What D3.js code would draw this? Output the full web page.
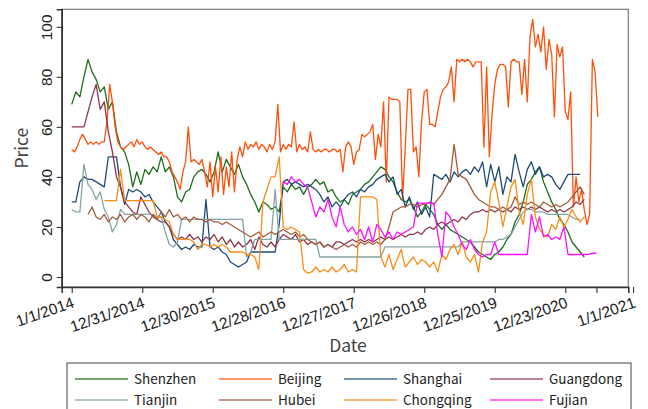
<!DOCTYPE html>
<html>
<head>
<meta charset="utf-8">
<script src="https://cdn.jsdelivr.net/npm/d3@7"></script>
<style>
  html, body { margin: 0; padding: 0; background: #fff; }
  svg { display: block; }
</style>
</head>
<body>
<svg id="chart" width="648" height="409"></svg>
<script>
// Weekly carbon-permit prices by pilot market (week 0 = first week of 2014)
const seriesNames = ["Shenzhen", "Beijing", "Shanghai", "Guangdong", "Tianjin", "Hubei", "Chongqing", "Fujian"];
const seriesColors = ["#1b6d1b", "#ff4f0a", "#1f4a78", "#8c3448", "#86a3a3", "#a35a3a", "#f98c17", "#ff10ff"];

// x-axis ticks (in weeks) and their labels; one tick is left unlabelled
const tickWeeks = [0, 52, 104, 156, 208, 260, 312, 364, 387, 414];
const tickLabels = ["1/1/2014", "12/31/2014", "12/30/2015", "12/28/2016", "12/27/2017", "12/26/2018", "12/25/2019", "12/23/2020", "", "1/1/2021"];
const priceTicks = [0, 20, 40, 60, 80, 100];

// each series: first week, sampling step in weeks, prices
const shenzhen = { start: 0, step: 3, values: [
  69,74,72,80,87,82,79,74,76,67,
  70,58,52,50,45,36,42,37,43,41,
  44,42,48,42,44,40,32,30,34,35,
  40,42,43,41,38,42,50,42,47,44,
  41,45,40,37,33,30,26,30,29,27,
  28,26,36,34,37,35,36,33,36,37,
  39,37,38,34,35,32,30,31,29,33,
  34,35,37,38,40,42,44,43,40,38,
  34,31,30,31,28,24,26,29,27,25,
  21,19,21,19,18,17,16,15,14,12,
  10,9,8,7,9,10,12,15,17,22,
  25,30,37,39,42,44,38,34,30,27,
  23,21,18,14,12,10,8] };

const beijing = { start: 0, step: 2, values: [
  51,50,52,55,57,55,53,54,53,54,
  53,54,54,62,77,70,60,54,52,51,
  52,53,54,52,55,53,54,52,51,52,
  51,50,49,50,48,48,46,42,40,38,
  35,42,46,60,46,47,46,45,47,42,
  36,46,32,44,34,48,33,44,36,50,
  34,47,52,48,54,51,53,52,54,51,
  53,52,50,53,51,54,69,50,53,51,
  53,52,62,50,53,51,52,50,58,51,
  50,51,50,51,51,50,51,51,50,51,
  42,52,54,52,45,50,51,57,56,57,
  58,61,47,57,52,70,38,72,71,71,
  71,70,31,52,75,75,50,52,40,62,
  74,75,61,61,60,66,72,75,76,78,
  84,70,87,86,87,86,87,86,84,86,
  86,86,52,84,48,65,77,83,85,85,
  84,68,86,87,86,86,73,87,70,96,
  103,92,97,90,100,83,95,89,64,93,
  88,92,66,63,74,28,40,30,35,27,
  21,25,87,82,64] };

const shanghai = { start: 0, step: 3, values: [
  30,30,38,40,39,39,38,37,36,48,
  48,48,36,29,35,34,35,34,32,33,
  30,28,26,22,20,15,13,11,12,11,
  13,12,12,31,12,11,12,10,9,6,
  5,4,5,6,10,10,10,10,10,10,
  10,21,38,39,37,38,37,36,37,36,
  35,33,30,32,28,30,28,31,33,34,
  32,35,34,36,37,39,40,41,38,40,
  33,35,28,32,27,30,25,28,24,41,
  40,39,41,38,42,40,42,43,41,44,
  42,46,36,45,38,44,33,40,38,49,
  42,36,43,46,41,44,40,41,40,37,
  35,38,41,41,41,41] };

const guangdong = { start: 0, step: 3, values: [
  60,60,60,60,66,72,77,67,70,58,
  50,40,36,30,28,26,25,32,29,26,
  24,23,22,22,20,17,15,16,15,17,
  15,16,14,16,15,17,14,16,13,15,
  12,14,12,13,15,11,16,13,12,14,
  12,15,17,16,15,17,14,15,13,14,
  13,14,12,13,12,14,14,13,14,15,
  14,15,14,15,14,15,16,15,16,15,
  16,17,16,17,17,18,17,19,20,19,
  21,22,21,22,23,22,24,23,25,26,
  26,27,26,27,26,27,26,27,26,28,
  27,28,27,28,27,28,27,26,27,26,
  27,26,27,28,30,29,31] };

const tianjin = { start: 0, step: 3, values: [
  27,26,26,45,37,35,31,34,27,24,
  18,21,27,25,25,25,25,25,25,25,
  25,24,24,18,13,12,14,23,23,23,
  23,23,23,23,23,23,23,23,23,23,
  23,23,23,8,10,15,15,15,15,15,
  35,15,15,15,15,15,15,15,15,15,
  15,8,8,8,8,8,8,8,8,8,
  8,8,8,8,8,8,8,12,12,12,
  12,12,12,12,12,12,12,12,12,12,
  12,12,12,12,12,12,14,14,14,14,
  14,14,14,14,14,15,15,16,17,20,
  23,26,27,27,26,26,26,25,25,25,
  25,25,25,24,23,23] };

const hubei = { start: 12, step: 3, values: [
  25,28,24,23,25,22,24,23,25,22,
  24,25,23,25,24,22,25,23,26,24,
  27,24,25,23,24,22,24,23,23,22,
  23,22,22,21,22,21,20,19,18,17,
  16,17,18,16,17,18,17,18,19,18,
  17,18,16,17,15,14,13,14,12,13,
  12,11,12,13,12,13,12,14,13,14,
  13,14,13,15,20,26,27,28,28,29,
  29,28,29,29,30,29,31,33,36,39,
  53,41,40,39,36,33,31,30,29,28,
  28,27,28,27,28,32,29,30,29,30,
  29,28,30,29,28,29,28,29,30,32,
  34,36,33] };

const chongqing = { start: 24, step: 3, values: [
  30.5,30.5,30.5,30.5,43,30.5,30.5,30.5,30.5,30.5,
  30.5,30.5,30.5,24,24,23,22,17,15,15,
  15,15,14,11,13,13,12,13,12,13,
  12,10,10,10,10,9,9,8,3,30,
  35,40,40,48,20,19,20,19,18,3,
  1.5,2,4,2,3,2,4,2,3,5,
  2,3,2,32,32,32,32,31,8,4,
  9,3,7,11,4,6,8,5,7,6,
  4,6,2,9,7,11,13,9,14,8,
  6,9,2,14,18,34,38,30,20,28,
  36,39,26,21,33,39,24,19,17,16,
  21,19,24,20,23,27,24,22,24] };

const fujian = { start: 156, step: 3, values: [
  38,37,40,38,39,37,36,30,24,28,
  26,31,24,20,28,21,18,20,17,19,
  15,20,14,21,19,16,18,15,18,17,
  18,19,20,29.5,29.5,29.5,29.5,29.5,17,8,
  26,24,20,17,13,11,15,11,9,8,
  9,9,14,9,9,9,9,9,9,9,
  9,25,18,24,16,17,15,16,15,20,
  9,9,9,9,9,9,9.5,9.5] };

const seriesData = [shenzhen, beijing, shanghai, guangdong, tianjin, hubei, chongqing, fujian];

// ---- layout ----
const svg = d3.select("#chart");
const plot = { left: 61.7, right: 628.3, top: 9.3, bottom: 287 };

const x = d3.scaleLinear().domain([-7.4, 410.5]).range([plot.left, plot.right]);
const y = d3.scaleLinear().domain([-4, 107]).range([plot.bottom, plot.top]);

const tickFont = "'Liberation Sans', Arial, sans-serif";
const titleFont = "'Noto Sans CJK SC', 'Noto Sans', sans-serif";

svg.append("clipPath").attr("id", "plot-clip")
  .append("rect")
  .attr("x", plot.left).attr("y", plot.top)
  .attr("width", plot.right - plot.left).attr("height", plot.bottom - plot.top);

// series lines
const line = d3.line()
  .x(d => x(d.week))
  .y(d => y(d.price));

const linesG = svg.append("g").attr("clip-path", "url(#plot-clip)");
seriesData.forEach((s, k) => {
  const pts = s.values.map((v, i) => ({ week: s.start + i * s.step, price: v }));
  linesG.append("path")
    .datum(pts)
    .attr("d", line)
    .attr("fill", "none")
    .attr("stroke", seriesColors[k])
    .attr("stroke-width", 1.3)
    .attr("stroke-linejoin", "round");
});

// frame
svg.append("rect")
  .attr("x", plot.left).attr("y", plot.top)
  .attr("width", plot.right - plot.left).attr("height", plot.bottom - plot.top)
  .attr("fill", "none").attr("stroke", "#7a7a7a").attr("stroke-width", 1.2);

// y axis
const yAxis = d3.axisLeft(y).tickValues(priceTicks).tickSize(5);
const yg = svg.append("g").attr("transform", `translate(${plot.left},0)`).call(yAxis);
yg.select(".domain").attr("stroke", "#333").attr("stroke-width", 1.6);
yg.selectAll(".tick line").attr("stroke", "#333").attr("stroke-width", 1.1);
yg.selectAll(".tick text")
  .attr("font-family", tickFont).attr("font-size", 15.5).attr("fill", "#222")
  .attr("text-anchor", "middle")
  .attr("x", 0).attr("y", 0).attr("dy", 0)
  .attr("transform", "translate(-10,0) rotate(-90)");

// x axis
const xAxis = d3.axisBottom(x).tickValues(tickWeeks).tickSize(6).tickFormat((d, i) => tickLabels[i]);
const xg = svg.append("g").attr("transform", `translate(0,${plot.bottom})`).call(xAxis);
xg.select(".domain").attr("stroke", "#333").attr("stroke-width", 1.6);
xg.selectAll(".tick line").attr("stroke", "#333").attr("stroke-width", 1.1);
xg.selectAll(".tick text")
  .attr("font-family", tickFont).attr("font-size", 15.5).attr("fill", "#222")
  .attr("text-anchor", "end")
  .attr("y", 0).attr("dy", 0)
  .attr("transform", "translate(3,20) rotate(-19)");

// axis titles
svg.append("text")
  .attr("x", (plot.left + plot.right) / 2 + 3).attr("y", 352)
  .attr("text-anchor", "middle")
  .attr("font-family", titleFont).attr("font-size", 17.5).attr("fill", "#444")
  .text("Date");
svg.append("text")
  .attr("transform", `translate(28,${(plot.top + plot.bottom) / 2}) rotate(-90)`)
  .attr("text-anchor", "middle")
  .attr("font-family", titleFont).attr("font-size", 17.5).attr("fill", "#444")
  .text("Price");

// legend
const legend = svg.append("g");
legend.append("rect")
  .attr("x", 67).attr("y", 363).attr("width", 564).attr("height", 52)
  .attr("fill", "#fff").attr("stroke", "#444").attr("stroke-width", 1);
const colX = [75, 219, 344, 490];
const rowY = [379, 400];
seriesNames.forEach((name, k) => {
  const cx = colX[k % 4], cy = rowY[Math.floor(k / 4)];
  legend.append("line")
    .attr("x1", cx).attr("x2", cx + 53).attr("y1", cy).attr("y2", cy)
    .attr("stroke", seriesColors[k]).attr("stroke-width", 1.6).attr("opacity", 0.8);
  legend.append("text")
    .attr("x", cx + 59).attr("y", cy).attr("dy", "0.35em")
    .attr("font-family", titleFont).attr("font-size", 13.5).attr("fill", "#222")
    .text(name);
});
</script>
</body>
</html>
